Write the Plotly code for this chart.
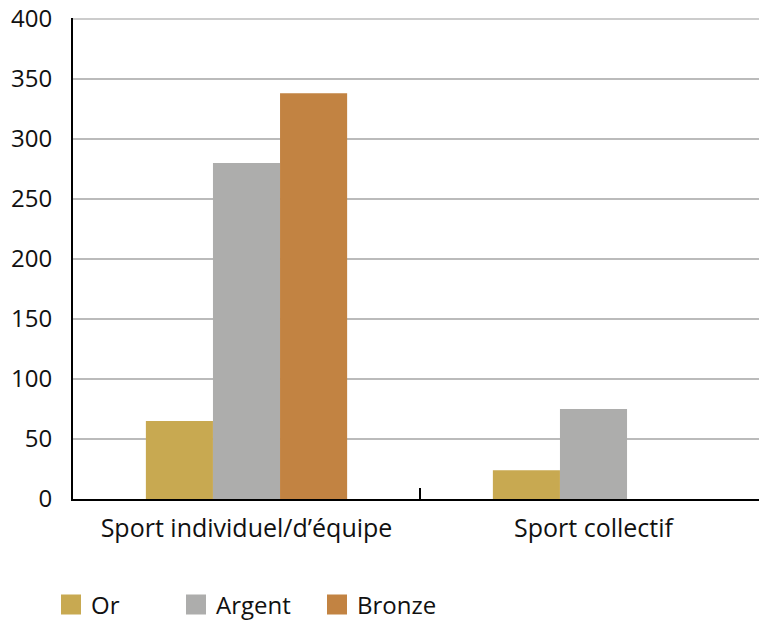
import plotly.graph_objects as go

categories = ["Sport individuel/d’équipe", "Sport collectif"]
series_names = ["Or", "Argent", "Bronze"]
or_values = [65, 24]
argent_values = [280, 75]
bronze_values = [338, 0]
colors = ["#C8A951", "#ADADAC", "#C28342"]
y_ticks = [0, 50, 100, 150, 200, 250, 300, 350, 400]

# the page body has an 8px default margin, so the figure is drawn 8px in and 8px down
W, H = 759, 613

fig = go.Figure()
for name, vals, col in zip(series_names, [or_values, argent_values, bronze_values], colors):
    fig.add_trace(go.Bar(x=categories, y=vals, name=name, marker=dict(color=col, line=dict(width=0)),
                         showlegend=False))
# legend entries with larger square symbols, each in its own legend for exact placement
legend_ids = ["legend", "legend2", "legend3"]
legend_x = [43, 168, 309]
for name, col, lid in zip(series_names, colors, legend_ids):
    fig.add_trace(go.Scatter(x=[None], y=[None], mode="markers", name=name, legend=lid,
                             marker=dict(symbol="square", size=24, color=col,
                                         line=dict(color=col, width=4))))

leg_common = dict(xref="container", yref="container", xanchor="left", yanchor="middle",
                  y=1 - 597 / H, itemsizing="trace", font=dict(size=24, family="Open Sans", color="#111"),
                  itemclick=False, itemdoubleclick=False, bgcolor="rgba(0,0,0,0)")

fig.update_layout(
    width=W, height=H,
    margin=dict(l=65, r=0, t=10, b=122, autoexpand=False),
    paper_bgcolor="white", plot_bgcolor="white",
    font=dict(family="Open Sans", size=24, color="#111"),
    barmode="group", bargap=0.42, bargroupgap=0,
    legend=dict(x=legend_x[0] / W, **leg_common),
    legend2=dict(x=legend_x[1] / W, **leg_common),
    legend3=dict(x=legend_x[2] / W, **leg_common),
    xaxis=dict(showline=True, linecolor="black", linewidth=2, ticks="inside", tickson="boundaries",
               ticklen=11, tickcolor="black", tickwidth=1.5, showgrid=False, ticklabelstandoff=6,
               tickfont=dict(size=25)),
    yaxis=dict(range=[0, 400.8], tickvals=y_ticks, showline=True, linecolor="black", linewidth=2,
               showgrid=True, gridcolor="#BBBBBB", gridwidth=1.5, zeroline=False, ticks="",
               ticklabelstandoff=14, tickfont=dict(size=24), ticklabeloverflow="allow"),
)
# top gridline at the axis maximum
fig.add_hline(y=y_ticks[-1], line=dict(color="#BBBBBB", width=1.5), layer="below")
fig.write_html("out.html")
